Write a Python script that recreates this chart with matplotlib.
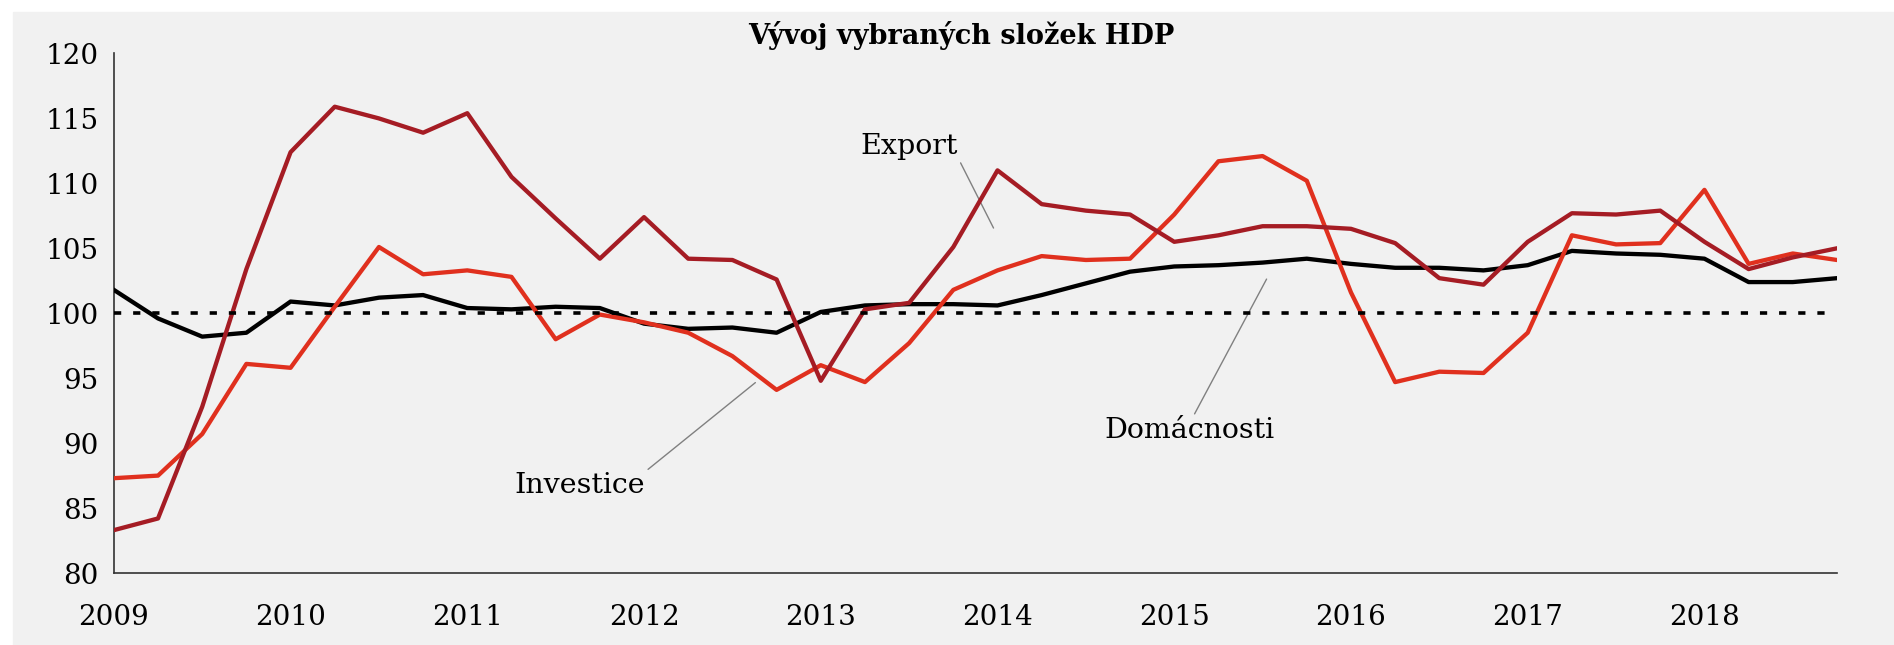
"""
Vývoj vybraných složek HDP - quarterly index, 2009-2018.
"""

import matplotlib
matplotlib.use("Agg")
import matplotlib.pyplot as plt
from matplotlib.patches import Rectangle

# quarterly values 2009Q1 .. 2018Q4
years = [2009, 2010, 2011, 2012, 2013, 2014, 2015, 2016, 2017, 2018]

export = [83.3, 84.2, 92.8, 103.4, 112.4, 115.9, 115.0, 113.9, 115.4, 110.5,
          107.3, 104.2, 107.4, 104.2, 104.1, 102.6, 94.8, 100.3, 100.8, 105.1,
          111.0, 108.4, 107.9, 107.6, 105.5, 106.0, 106.7, 106.7, 106.5, 105.4,
          102.7, 102.2, 105.5, 107.7, 107.6, 107.9, 105.5, 103.4, 104.3, 105.0]

investice = [87.3, 87.5, 90.7, 96.1, 95.8, 100.5, 105.1, 103.0, 103.3, 102.8,
             98.0, 99.9, 99.3, 98.5, 96.7, 94.1, 96.0, 94.7, 97.7, 101.8,
             103.3, 104.4, 104.1, 104.2, 107.6, 111.7, 112.1, 110.2, 101.6, 94.7,
             95.5, 95.4, 98.5, 106.0, 105.3, 105.4, 109.5, 103.8, 104.6, 104.1]

domacnosti = [101.8, 99.6, 98.2, 98.5, 100.9, 100.6, 101.2, 101.4, 100.4, 100.3,
              100.5, 100.4, 99.2, 98.8, 98.9, 98.5, 100.1, 100.6, 100.7, 100.7,
              100.6, 101.4, 102.3, 103.2, 103.6, 103.7, 103.9, 104.2, 103.8, 103.5,
              103.5, 103.3, 103.7, 104.8, 104.6, 104.5, 104.2, 102.4, 102.4, 102.7]

baseline = 100

FONT = "DejaVu Serif"
plt.rcParams["font.family"] = FONT

x = list(range(len(export)))

fig = plt.figure(figsize=(18.94, 6.45), dpi=100, facecolor="white")
# gray panel behind everything
fig.patches.append(Rectangle((13 / 1894, 0), 1, 1 - 12 / 645,
                             transform=fig.transFigure, color="#f1f1f1", zorder=-10))

ax = fig.add_axes([0.0601, 0.1116, 0.9098, 0.8055])
ax.set_facecolor("none")

ax.plot(x, domacnosti, color="black", lw=3.1, zorder=3)
ax.plot(x, investice, color="#e0301e", lw=3.1, zorder=4)
ax.plot(x, export, color="#a51c24", lw=3.1, zorder=5)
ax.hlines(baseline, 0, 38.8, colors="black", lw=2.6,
          linestyles=(0, (2.0, 3.3)), zorder=6)

ax.set_xlim(0, 39)
ax.set_ylim(80, 120)
ax.set_xticks(x[::4])
ax.set_xticklabels([str(y) for y in years])
ax.set_yticks(range(80, 121, 5))
ax.tick_params(axis="both", length=0, labelsize=20)
ax.tick_params(axis="x", pad=22)
ax.tick_params(axis="y", pad=11)

for side in ("top", "right"):
    ax.spines[side].set_visible(False)
for side in ("left", "bottom"):
    ax.spines[side].set_color("#333333")
    ax.spines[side].set_linewidth(1.2)

# labels with thin leader lines
lead = dict(arrowstyle="-", color="#808080", lw=1, shrinkA=0, shrinkB=0)
ax.annotate("Export", xy=(19.91, 106.56), xytext=(18.0, 112.83),
            ha="center", va="center", fontsize=20.5,
            arrowprops=dict(lead, relpos=(1, 0.1)))
ax.annotate("Investice", xy=(14.52, 94.66), xytext=(10.55, 86.77),
            ha="center", va="center", fontsize=20.5,
            arrowprops=dict(lead, relpos=(1, 1)))
ax.annotate("Domácnosti", xy=(26.09, 102.63), xytext=(24.35, 91.0),
            ha="center", va="center", fontsize=20.5,
            arrowprops=dict(lead, relpos=(0.52, 1)))

fig.text(0.5074, 0.9457, "Vývoj vybraných složek HDP", ha="center", va="center",
         fontsize=19.5, fontweight="bold")

fig.savefig("out.png", dpi=100, facecolor=fig.get_facecolor())
